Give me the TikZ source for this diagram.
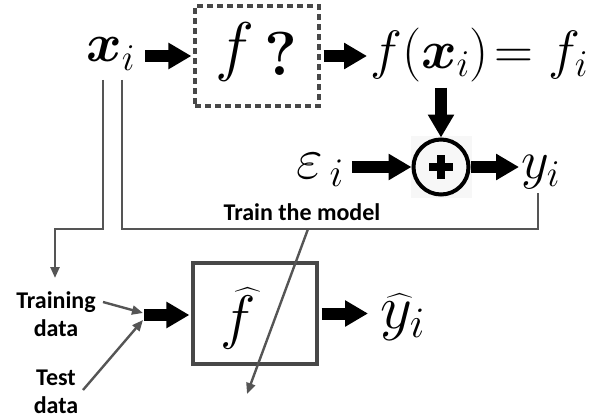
\RequirePackage{fix-cm}
\documentclass[tikz,border=0pt]{standalone}
\usepackage{amsmath,bm}
\usepackage{fontspec}
\newfontfamily\carlito{Carlito}
\usetikzlibrary{arrows.meta}
\definecolor{dgray}{HTML}{484848}
\definecolor{lgray}{HTML}{555555}
\begin{document}
\begin{tikzpicture}[x=1pt,y=-1pt,
  math/.style={inner sep=0, font=\fontsize{54}{60}\selectfont},
  bigarrow/.style={line width=12pt, -{Triangle[length=23pt,width=25pt]}},
  thinline/.style={draw=lgray, line width=2.4pt},
  thinarrow/.style={thinline, -{Triangle[length=11pt,width=9pt]}},
  lbl/.style={font=\carlito\bfseries\fontsize{24}{28}\selectfont, align=center, inner sep=0},
  boxline/.style={draw=dgray, line width=3.2pt, inner sep=0}]
\useasboundingbox (0,0) rectangle (605,420);
% top row
\node[math, anchor=base west] (xi) at (86,62) {$\bm{x}_i$};
\node[boxline, dash pattern=on 6pt off 4pt, minimum width=124pt, minimum height=100pt] (fq) at (257,56) {};
\node[inner sep=0, font=\fontsize{66}{70}\selectfont, anchor=base] (fsym) at (235,69) {$f$};
\node[inner sep=0, font=\bfseries\fontsize{62}{64}\selectfont, anchor=base] (qm) at (281,75) {?};
\node[math, anchor=base west] (fx) at (370,68) {$f(\bm{x}_i)\mkern-3mu=f_i$};
\draw[bigarrow, shorten <=10pt, shorten >=2pt] (xi.east |- fq.west) -- (fq.west);
\draw[bigarrow, shorten <=3pt, shorten >=3pt] (fq.east) -- (fx.west |- fq.east);
% adder
\fill[gray!6] (411,136) rectangle (472,198);
\node[circle, draw, line width=4pt, minimum size=55pt, inner sep=0] (plus) at (441,167) {};
\draw[line width=7.5pt] ([xshift=-12pt]plus.center) -- ([xshift=12pt]plus.center);
\draw[line width=7.5pt] ([yshift=-12pt]plus.center) -- ([yshift=12pt]plus.center);
\draw[bigarrow, shorten <=6pt] (plus.north |- fx.south) -- (plus.north);
\node[math, anchor=base west, font=\fontsize{58}{60}\selectfont] (eps) at (296,178) {$\varepsilon_{\,i}$};
\node[math, anchor=base west] (yi) at (521,178) {$y_i$};
\draw[bigarrow, shorten <=8pt] (eps.east |- plus.west) -- (plus.west);
\draw[bigarrow, shorten >=2pt] (plus.east) -- (yi.west |- plus.east);
% bottom row
\node[boxline, minimum width=124pt, minimum height=101pt] (fhb) at (255,313.5) {};
\node[inner sep=0, font=\fontsize{60}{64}\selectfont, anchor=base] (fh) at (238,337) {$\widehat{f}$};
\node[math, anchor=base west, font=\fontsize{62}{64}\selectfont] (yh) at (380,328) {$\widehat{y}_i$};
\coordinate (inpt) at (144,315);
\draw[bigarrow, shorten >=2pt] (inpt) -- (fhb.west |- inpt);
\draw[bigarrow, shorten <=3pt, shorten >=12pt] (fhb.east) -- (yh.west |- fhb.east);
% labels
\node[lbl] (trd) at (56,314) {Training\\data};
\node[lbl] (tsd) at (56,392) {Test\\data};
\node[lbl, anchor=base] (tm) at (302,220) {Train the model};
% thin connectors
\coordinate (xa) at (103,80);
\coordinate (xb) at (122,80);
\coordinate (trtip) at (55,278);
\coordinate (ybot) at (538,193);
\coordinate (tmsrc) at (308,229);
\coordinate (tmtip) at (247,394);
\coordinate (trs) at (103,302);
\coordinate (tss) at (83,390);
\coordinate (in1) at (143,313);
\coordinate (in2) at (143,320);
\draw[thinarrow] (xa) -- ++(0,149) -| (trtip);
\draw[thinline] (xb) |- (ybot |- tmsrc) -- (ybot);
\draw[thinarrow] (tmsrc) -- (tmtip);
\draw[thinarrow] (trs) -- (in1);
\draw[thinarrow] (tss) -- (in2);
\end{tikzpicture}
\end{document}
